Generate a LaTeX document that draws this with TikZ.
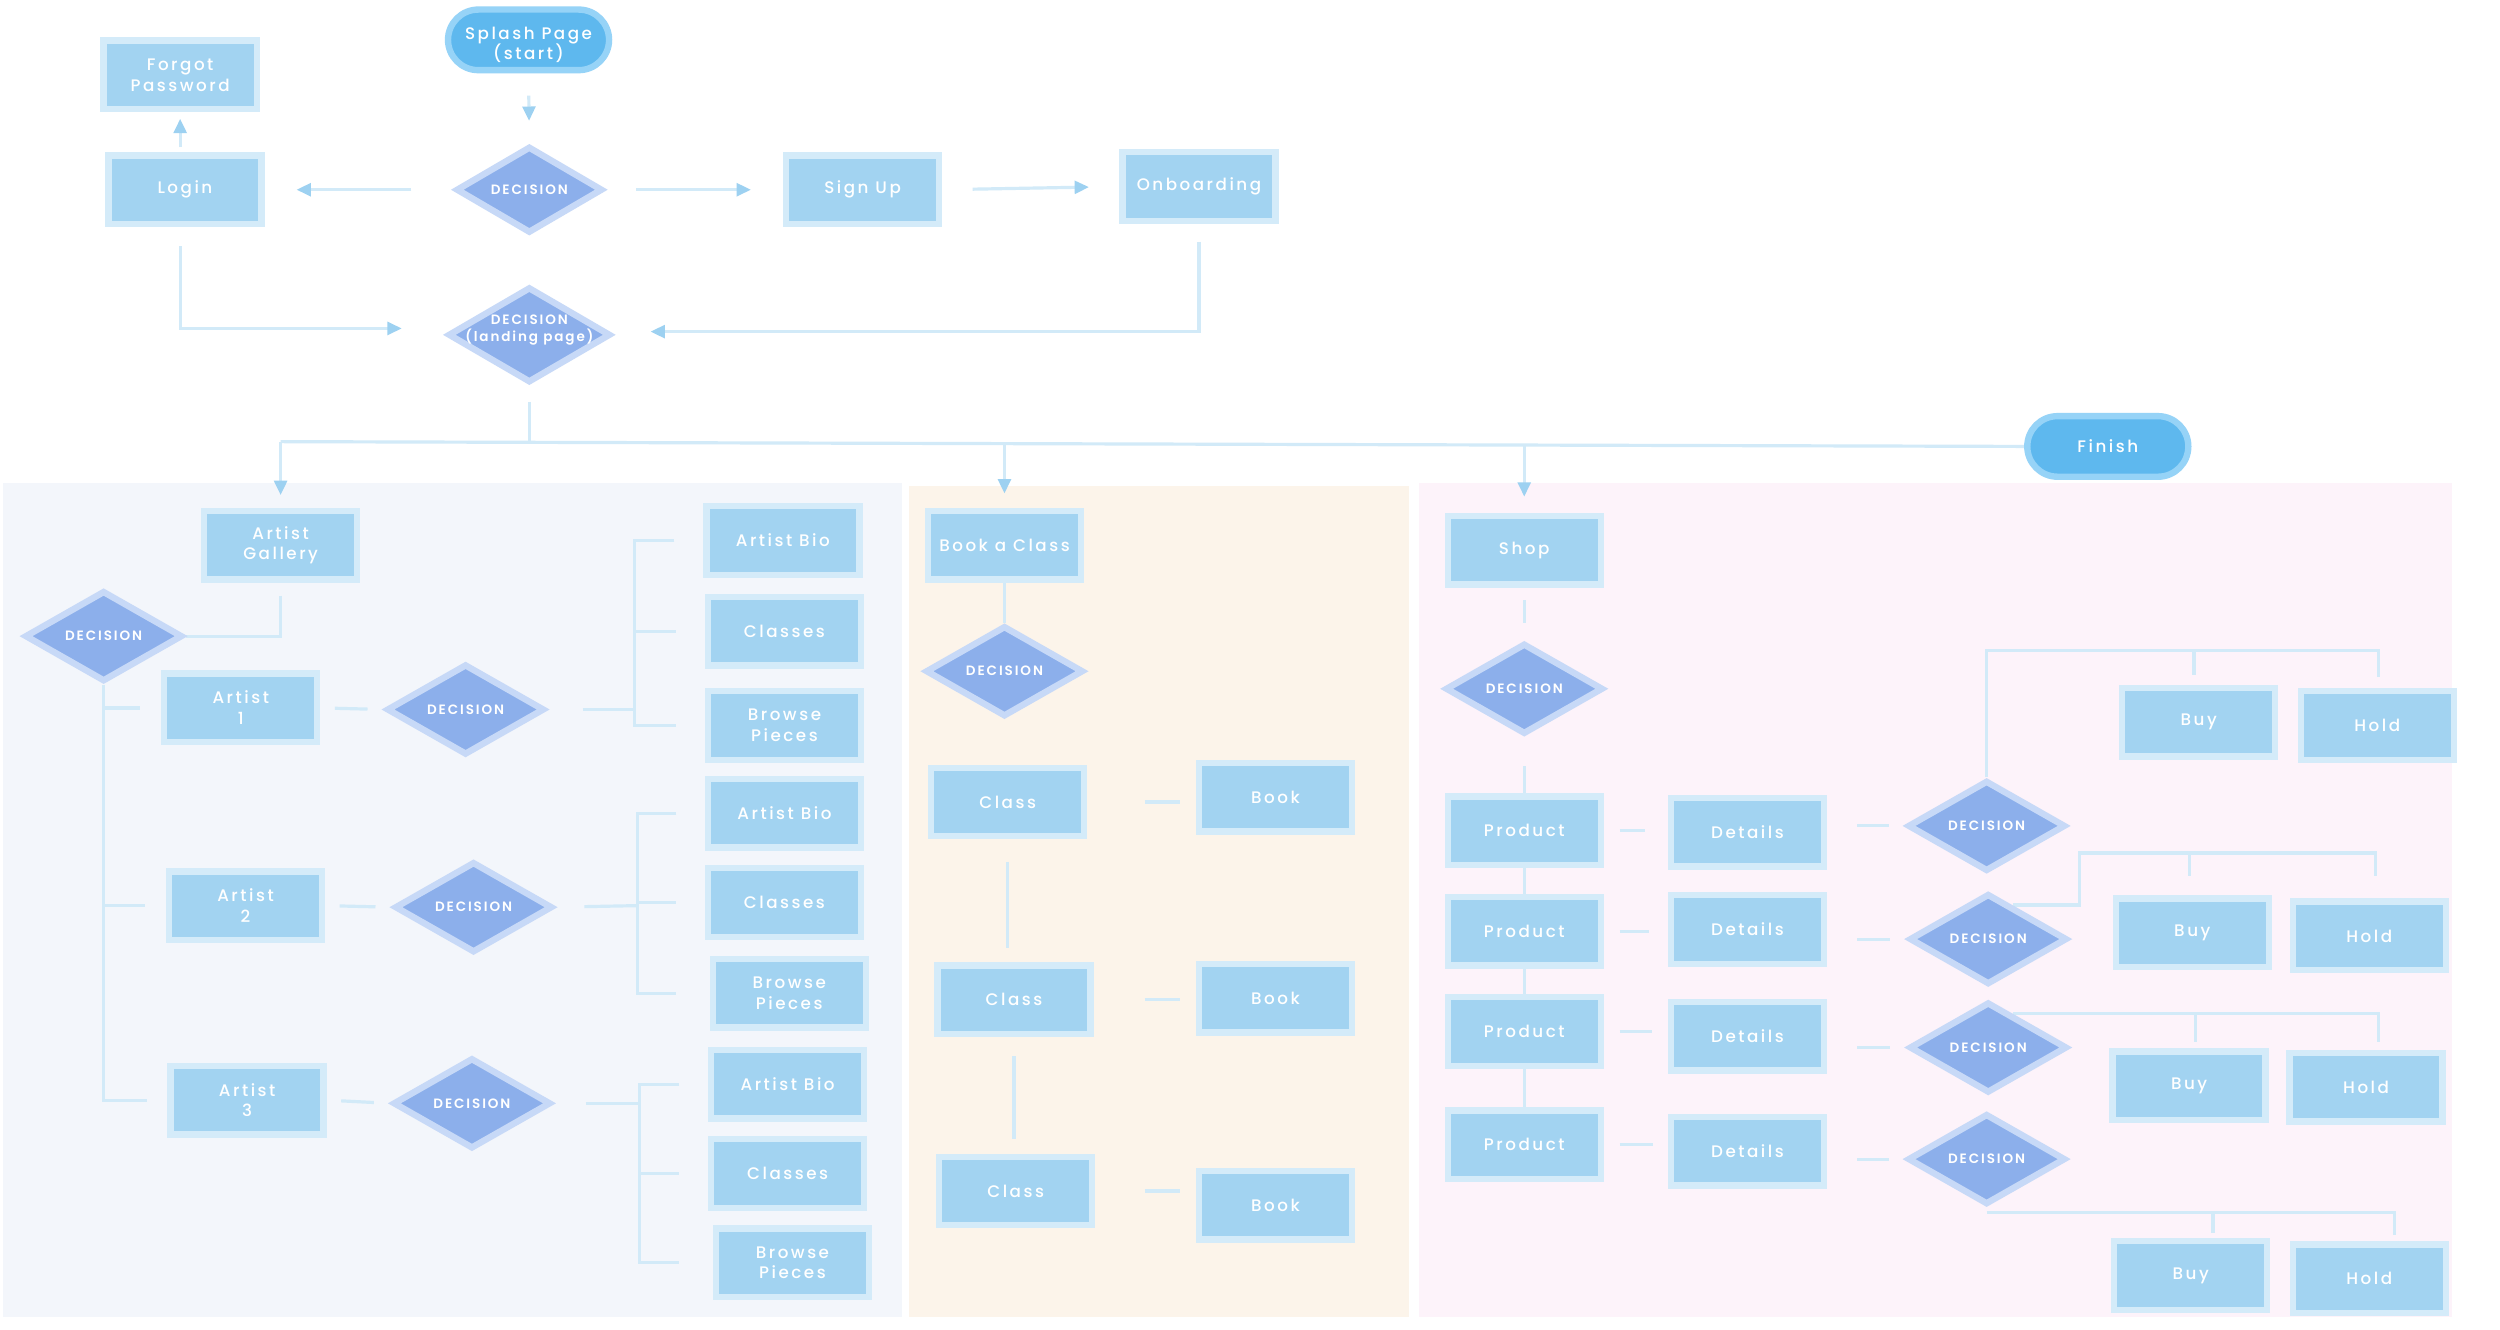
\documentclass[tikz,border=0pt]{standalone}
\usepackage{fontspec}
\usetikzlibrary{shapes.geometric,arrows.meta,calc}
\newfontfamily\bxfam[LetterSpace=15]{Poppins Medium}
\newfontfamily\dcfam[LetterSpace=14]{Poppins SemiBold}
\newcommand\bxfont{\bxfam\fontsize{10.5}{13}\selectfont}
\newcommand\dcfont{\dcfam\fontsize{8.5}{11}\selectfont}
\definecolor{boxfill}{HTML}{A2D3F1}
\definecolor{boxedge}{HTML}{D4EBF9}
\definecolor{decfill}{HTML}{8CAFEB}
\definecolor{decedge}{HTML}{C7D9F7}
\definecolor{pillfill}{HTML}{5EB8EE}
\definecolor{pilledge}{HTML}{96D3F7}
\definecolor{linec}{HTML}{D2EAF8}
\definecolor{arrowc}{HTML}{9DD1F1}
\definecolor{panelL}{HTML}{F3F6FB}
\definecolor{panelM}{HTML}{FCF4EA}
\definecolor{panelR}{HTML}{FDF3FA}
\pgfdeclarelayer{panel}
\pgfdeclarelayer{bg}
\pgfsetlayers{panel,bg,main}
\tikzset{
  box/.style={rectangle, draw=boxedge, line width=4pt, fill=boxfill, minimum width=96pt, minimum height=43pt, inner sep=0pt, text=white, align=center, font=\bxfont},
  dec/.style={diamond, draw=decedge, line width=4pt, fill=decfill, minimum width=99pt, minimum height=57pt, inner sep=0pt, text=white, align=center, font=\dcfont},
  dectext/.style={inner sep=0pt, text=white, align=center, font=\dcfont},
  pill/.style={rectangle, rounded corners=19pt, draw=pilledge, line width=4pt, fill=pillfill, minimum width=101pt, minimum height=38pt, inner sep=0pt, text=white, align=center, font=\bxfont},
  conn/.style={draw=linec, line width=2pt},
  arr/.style={draw=linec, line width=2pt, -{Triangle[length=9pt,width=8pt,color=arrowc]}},
}
\begin{document}
\begin{tikzpicture}[x=1pt,y=-1pt]
\useasboundingbox (0,0) rectangle (1568,834);
\begin{pgfonlayer}{panel}
\fill[white] (0,0) rectangle (1568,834);
\fill[panelL] (2,303) rectangle (566,826);
\fill[panelM] (570,305) rectangle (884,826);
\fill[panelR] (890,303) rectangle (1538,826);
\end{pgfonlayer}

% top section
\node[pill] (splash) at (331.5,25) {\rule{0pt}{14pt}Splash Page\\(start)};
\node[dec, minimum width=92pt, minimum height=53pt] (d1) at (332,119) {DECISION};
\node[box] (forgot) at (113,47) {Forgot\\Password};
\node[box] (login) at (116,119) {Login};
\node[box] (signup) at (541,119) {Sign Up};
\node[box] (onb) at (752,117) {Onboarding};
\node[dec, minimum width=102pt, minimum height=60pt] (land) at (332,210) {};
\node[dectext] (landtxt) at (332,207) {DECISION\\(landing page)};
\node[pill] (finish) at (1322,280) {Finish};

% left panel
\node[box] (gallery) at (176,342) {Artist\\Gallery};
\node[dec] (decL) at (65,399) {DECISION};
\node[box] (a1) at (151,444) {Artist\\1};
\node[dec] (dA1) at (292,445) {DECISION};
\node[box] (bio1) at (491,339) {Artist Bio};
\node[box] (cl1) at (492,396) {Classes};
\node[box] (bp1) at (492,455) {Browse\\Pieces};
\node[box] (a2) at (154,568) {Artist\\2};
\node[dec] (dA2) at (297,569) {DECISION};
\node[box] (bio2) at (492,510) {Artist Bio};
\node[box] (cl2) at (492,566) {Classes};
\node[box] (bp2) at (495,623) {Browse\\Pieces};
\node[box] (a3) at (155,690) {Artist\\3};
\node[dec] (dA3) at (296,692) {DECISION};
\node[box] (bio3) at (494,680) {Artist Bio};
\node[box] (cl3) at (494,736) {Classes};
\node[box] (bp3) at (497,792) {Browse\\Pieces};

% middle panel
\node[box] (bac) at (630,342) {Book a Class};
\node[dec] (dM) at (630,421) {DECISION};
\node[box] (c1) at (632,503) {Class};
\node[box] (b1) at (800,500) {Book};
\node[box] (c2) at (636,627) {Class};
\node[box] (b2) at (800,626) {Book};
\node[box] (c3) at (637,747) {Class};
\node[box] (b3) at (800,756) {Book};

% right panel
\node[box] (shop) at (956,345) {Shop};
\node[dec] (dS) at (956,432) {DECISION};
\node[box] (p1) at (956,521) {Product};
\node[box] (p2) at (956,584) {Product};
\node[box] (p3) at (956,647) {Product};
\node[box] (p4) at (956,718) {Product};
\node[box] (det1) at (1096,522) {Details};
\node[box] (det2) at (1096,583) {Details};
\node[box] (det3) at (1096,650) {Details};
\node[box] (det4) at (1096,722) {Details};
\node[dec] (dP1) at (1246,518) {DECISION};
\node[dec] (dP2) at (1247,589) {DECISION};
\node[dec] (dP3) at (1247,657) {DECISION};
\node[dec] (dP4) at (1246,727) {DECISION};
\node[box] (buy1) at (1379,453) {Buy};
\node[box] (hold1) at (1491,455) {Hold};
\node[box] (buy2) at (1375,585) {Buy};
\node[box] (hold2) at (1486,587) {Hold};
\node[box] (buy3) at (1373,681) {Buy};
\node[box] (hold3) at (1484,682) {Hold};
\node[box] (buy4) at (1374,800) {Buy};
\node[box] (hold4) at (1486,802) {Hold};

% coordinates
\coordinate (hubL) at (176,277);
\coordinate (hubM) at (630,278);
\coordinate (hubR) at (956,279);
\coordinate (j1) at (398,445);
\coordinate (j2) at (400,568);
\coordinate (j3) at (401,692);
\coordinate (r1) at (1246,408);
\coordinate (r2) at (1304,535);
\coordinate (r3) at ($(dP3.north)!0.3!(dP3.east)$);
\coordinate (r2s) at ($(dP2.north)!0.3!(dP2.east)$);
\coordinate (r4) at ([yshift=-3pt]dP4.south);
\coordinate (h1t) at ([xshift=1pt,yshift=7pt]hold1.north);
\coordinate (b1t) at ([xshift=-3pt,yshift=6pt]buy1.north);
\coordinate (h2t) at ([xshift=4pt,yshift=14pt]hold2.north);
\coordinate (b2t) at ([xshift=-2pt,yshift=12pt]buy2.north);
\coordinate (h3t) at ([xshift=8pt,yshift=5pt]hold3.north);
\coordinate (b3t) at ([xshift=4pt,yshift=4pt]buy3.north);
\coordinate (h4t) at ([xshift=16pt,yshift=4pt]hold4.north);
\coordinate (b4t) at ([xshift=14pt,yshift=3pt]buy4.north);

\begin{pgfonlayer}{bg}
% top
\draw[arr, shorten <=14pt, shorten >=14pt] (splash.south) -- (d1.north);
\draw[arr, shorten <=26pt, shorten >=20pt] (d1.west) -- (login.east);
\draw[arr, shorten <=19pt, shorten >=20pt] (d1.east) -- (signup.west);
\draw[arr, shorten <=19pt, shorten >=19pt] (signup.east) -- (onb.west);
\draw[arr, shorten <=3pt, shorten >=4pt] ([xshift=-3pt]login.north) -- (forgot.south);
\draw[arr, shorten <=12pt, shorten >=27pt] ([xshift=-3pt]login.south) |- ([yshift=4pt]land.west);
\draw[arr, shorten <=11pt, shorten >=23pt] (onb.south) |- ([yshift=2pt]land.east);
\draw[conn, shorten <=10pt] (land.south) -- (land.south |- hubL);
\draw[conn] (hubL) -- (finish.west);
\draw[arr, shorten >=8pt] (hubL) -- (gallery.north);
\draw[arr, shorten >=9pt] (hubM) -- (bac.north);
\draw[arr, shorten >=10pt] (hubR) -- (shop.north);
% left panel
\draw[conn, shorten <=8pt] (gallery.south) |- (decL.east);
\draw[conn] (decL.south) |- ([xshift=-13pt]a3.west);
\draw[conn] (decL.south |- a1.west) -- ([xshift=-13pt]a1.west);
\draw[conn] (decL.south |- a2.west) -- ([xshift=-13pt]a2.west);
\draw[conn, shorten <=9pt, shorten >=10pt] (a1.east) -- (dA1.west);
\draw[conn, shorten <=9pt, shorten >=10pt] (a2.east) -- (dA2.west);
\draw[conn, shorten <=9pt, shorten >=10pt] (a3.east) -- (dA3.west);
\draw[conn, shorten <=22pt] (dA1.east) -- (j1);
\draw[conn, shorten <=18pt] (dA2.east) -- (j2);
\draw[conn, shorten <=20pt] (dA3.east) -- (j3);
\draw[conn] ([xshift=-18pt]bio1.west) -| (j1 |- bp1.west) -- ([xshift=-18pt]bp1.west);
\draw[conn] (j1 |- cl1.west) -- ([xshift=-18pt]cl1.west);
\draw[conn] ([xshift=-18pt]bio2.west) -| (j2 |- bp2.west) -- ([xshift=-21pt]bp2.west);
\draw[conn] (j2 |- cl2.west) -- ([xshift=-18pt]cl2.west);
\draw[conn] ([xshift=-18pt]bio3.west) -| (j3 |- bp3.west) -- ([xshift=-21pt]bp3.west);
\draw[conn] (j3 |- cl3.west) -- ([xshift=-18pt]cl3.west);
% middle panel
\draw[conn] (bac.south) -- (dM.north);
\draw[conn, shorten <=36pt, shorten >=10pt] (c1.east) -- (c1.east -| b1.west);
\draw[conn, shorten <=32pt, shorten >=10pt] (c2.east) -- (c2.east -| b2.west);
\draw[conn, shorten <=31pt, shorten >=10pt] (c3.east) -- (c3.east -| b3.west);
\draw[conn, shorten <=14pt, shorten >=9pt] (c1.south) -- (c1.south |- c2.north);
\draw[conn, shorten <=12pt, shorten >=9pt] (c2.south) -- (c2.south |- c3.north);
% right panel
\draw[conn, shorten <=8pt, shorten >=11pt] (shop.south) -- (dS.north);
\draw[conn, shorten <=18pt] (dS.south) -- (p1.north);
\draw[conn] (p1.south) -- (p2.north);
\draw[conn] (p2.south) -- (p3.north);
\draw[conn] (p3.south) -- (p4.north);
\draw[conn, shorten <=10pt, shorten >=14pt] (p1.east) -- (p1.east -| det1.west);
\draw[conn, shorten <=10pt, shorten >=12pt] (p2.east) -- (p2.east -| det2.west);
\draw[conn, shorten <=10pt, shorten >=10pt] (p3.east) -- (p3.east -| det3.west);
\draw[conn, shorten <=10pt, shorten >=9pt] (p4.east) -- (p4.east -| det4.west);
\draw[conn, shorten <=19pt, shorten >=10pt] (det1.east |- dP1.west) -- (dP1.west);
\draw[conn, shorten <=19pt, shorten >=10pt] (det2.east |- dP2.west) -- (dP2.west);
\draw[conn, shorten <=19pt, shorten >=10pt] (det3.east |- dP3.west) -- (dP3.west);
\draw[conn, shorten <=19pt, shorten >=10pt] (det4.east |- dP4.west) -- (dP4.west);
\draw[conn] (dP1.north) -- (r1) -| (h1t);
\draw[conn] (r1 -| b1t) -- (b1t);
\draw[conn] (r2s) -| (r2) -| (h2t);
\draw[conn] (r2 -| b2t) -- (b2t);
\draw[conn] (r3) -| (h3t);
\draw[conn] (r3 -| b3t) -- (b3t);
\draw[conn] (r4) -| (h4t);
\draw[conn] (r4 -| b4t) -- (b4t);
\end{pgfonlayer}
\end{tikzpicture}
\end{document}
